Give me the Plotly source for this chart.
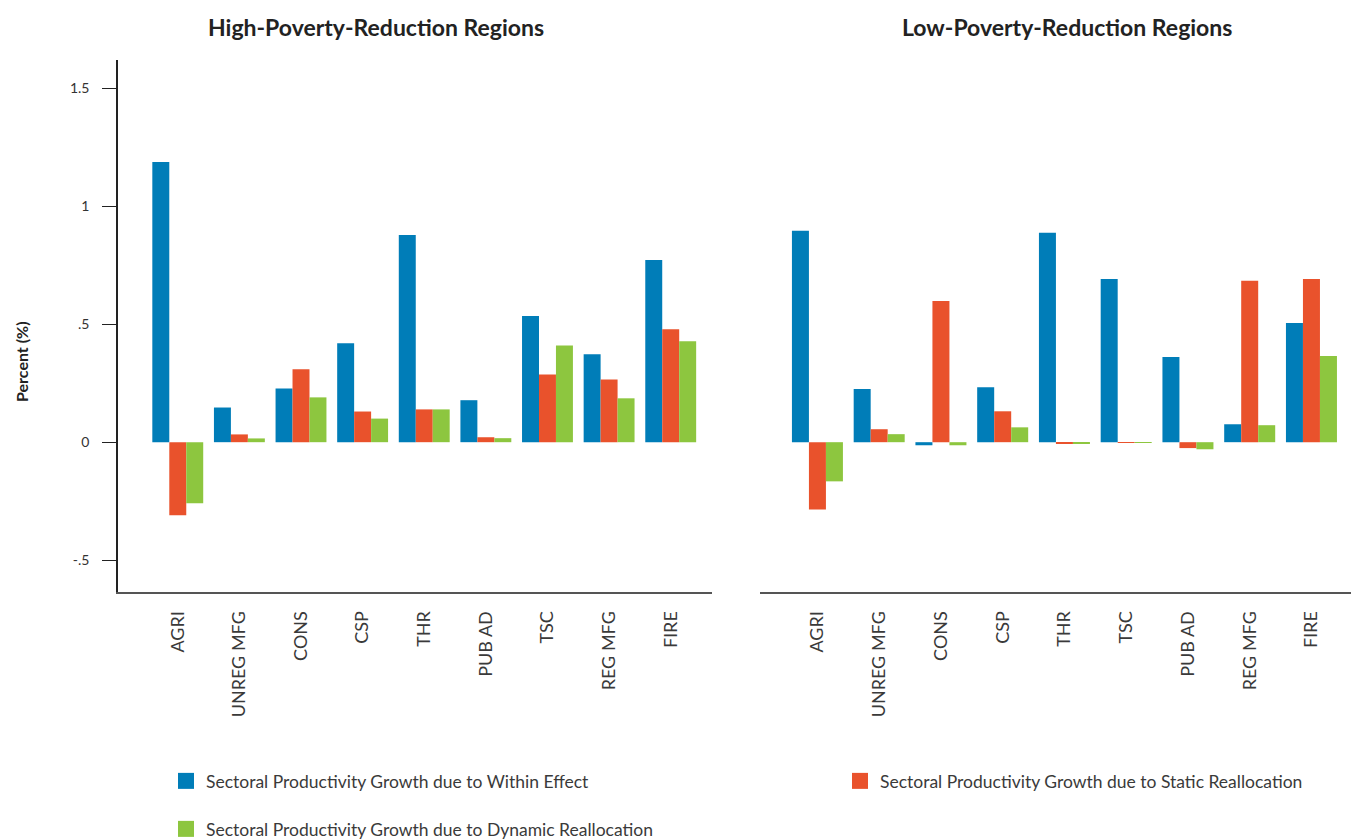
import plotly.graph_objects as go

# ---------------- data ----------------
cats_high = ["AGRI", "UNREG MFG", "CONS", "CSP", "THR", "PUB AD", "TSC", "REG MFG", "FIRE"]
within_high = [1.188, 0.147, 0.228, 0.419, 0.878, 0.178, 0.535, 0.373, 0.772]
static_high = [-0.310, 0.033, 0.309, 0.130, 0.139, 0.021, 0.287, 0.266, 0.479]
dynamic_high = [-0.259, 0.016, 0.190, 0.100, 0.139, 0.017, 0.410, 0.186, 0.428]

cats_low = ["AGRI", "UNREG MFG", "CONS", "CSP", "THR", "TSC", "PUB AD", "REG MFG", "FIRE"]
within_low = [0.896, 0.225, -0.013, 0.233, 0.888, 0.692, 0.361, 0.076, 0.505]
static_low = [-0.285, 0.055, 0.598, 0.131, -0.004, -0.002, -0.025, 0.684, 0.692]
dynamic_low = [-0.166, 0.034, -0.013, 0.063, -0.004, -0.002, -0.030, 0.072, 0.365]

series_names = [
    "Sectoral Productivity Growth due to Within Effect",
    "Sectoral Productivity Growth due to Static Reallocation",
    "Sectoral Productivity Growth due to Dynamic Reallocation",
]
colors = ["#007DB8", "#E9522C", "#8DC63F"]

y_tickvals = [-0.5, 0, 0.5, 1, 1.5]
y_ticktext = ["-.5", "0", ".5", "1", "1.5"]

# page body has an 8px margin; the figure starts 8px in from the window's top-left
OFF = 8
W, H = 1359 - OFF, 840 - OFF
FONT = "Lato"

fig = go.Figure()

high = [within_high, static_high, dynamic_high]
low = [within_low, static_low, dynamic_low]
for i in range(3):
    fig.add_trace(go.Bar(x=cats_high, y=high[i], name=series_names[i],
                         marker=dict(color=colors[i], line=dict(width=0)),
                         xaxis="x", yaxis="y", showlegend=False))
    fig.add_trace(go.Bar(x=cats_low, y=low[i], name=series_names[i],
                         marker=dict(color=colors[i], line=dict(width=0)),
                         xaxis="x2", yaxis="y2", showlegend=False))

legend_names = ["legend", "legend2", "legend3"]
for i in range(3):
    fig.add_trace(go.Scatter(x=[None], y=[None], mode="markers", name=series_names[i],
                             marker=dict(symbol="square", size=20, color=colors[i]),
                             legend=legend_names[i], showlegend=True,
                             xaxis="x", yaxis="y"))

# reference pixel positions (window coordinates)
top_px, bot_px = 60, 592
plot_h = bot_px - top_px

def px_x(p):
    return (p - OFF) / W

def px_y(p):
    return (bot_px - p) / plot_h

yrange = [-0.635, 1.62]

axis_common = dict(showgrid=False, zeroline=False, type="category", automargin=False,
                   tickangle=-90, ticks="", showline=True, linecolor="#555555",
                   linewidth=2, ticklabelstandoff=10,
                   tickfont=dict(family=FONT, size=18, color="#3a3a3a"))

legend_style = dict(orientation="v", xanchor="left", yanchor="middle",
                    font=dict(family=FONT, size=17.5, color="#3a3a3a"),
                    bgcolor="rgba(0,0,0,0)", itemsizing="trace")

fig.update_layout(
    width=W, height=H,
    margin=dict(l=0, r=0, t=top_px - OFF, b=(H + OFF) - bot_px, autoexpand=False),
    plot_bgcolor="white", paper_bgcolor="white",
    barmode="group", bargap=0.174, bargroupgap=0,
    font=dict(family=FONT, color="#333333"),
    xaxis=dict(domain=[px_x(118), px_x(712)], range=[-0.97, 8.67], anchor="y", **axis_common),
    xaxis2=dict(domain=[px_x(760), 1.0], range=[-0.93, 8.77], anchor="y2", **axis_common),
    yaxis=dict(domain=[0, 1], range=yrange, anchor="x", showgrid=False, zeroline=False,
               automargin=False,
               showline=True, linecolor="#222222", linewidth=1.5,
               ticks="outside", ticklen=14, tickcolor="#222222", tickwidth=1.2,
               ticklabelstandoff=10,
               tickvals=y_tickvals, ticktext=y_ticktext,
               tickfont=dict(family=FONT, size=14, color="#333333")),
    yaxis2=dict(domain=[0, 1], range=yrange, anchor="x2", showgrid=False, zeroline=False,
                automargin=False,
                showline=False, showticklabels=False, ticks=""),
    legend=dict(x=px_x(166), y=px_y(781), **legend_style),
    legend2=dict(x=px_x(840), y=px_y(781), **legend_style),
    legend3=dict(x=px_x(166), y=px_y(829), **legend_style),
    showlegend=True,
    annotations=[
        dict(text="<b>High-Poverty-Reduction Regions</b>", x=px_x(376), y=px_y(27),
             xref="paper", yref="paper", showarrow=False, xanchor="center", yanchor="middle",
             font=dict(family=FONT, size=23, color="#222222")),
        dict(text="<b>Low-Poverty-Reduction Regions</b>", x=px_x(1067), y=px_y(27),
             xref="paper", yref="paper", showarrow=False, xanchor="center", yanchor="middle",
             font=dict(family=FONT, size=23, color="#222222")),
        dict(text="<b>Percent (%)</b>", x=px_x(21), y=px_y(362), textangle=-90,
             xref="paper", yref="paper", showarrow=False, xanchor="center", yanchor="middle",
             font=dict(family=FONT, size=16, color="#222222")),
    ],
)

fig.write_html("out.html")
